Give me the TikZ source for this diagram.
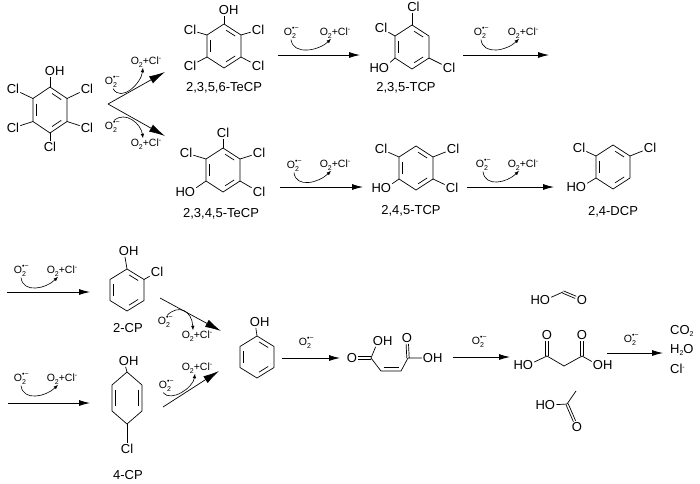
\documentclass[tikz,border=0pt]{standalone}
\usepackage{fontspec}
\setmainfont{Liberation Sans}
\usetikzlibrary{arrows.meta,calc}
\newcommand{\atomfont}{\fontsize{13}{15}\selectfont}
\newcommand{\reagfont}{\fontsize{10.5}{12}\selectfont}
\newcommand{\idxfont}{\fontsize{7}{8}\selectfont}
\newcommand{\superox}{O\rlap{\raisebox{5.5pt}{\idxfont •−}}\raisebox{-3pt}{\idxfont 2}}
\newcommand{\oxcl}{O\raisebox{-2.5pt}{\idxfont 2}+Cl\raisebox{4pt}{\idxfont -}}
% ring: [inner bonds]{name}{centre}{half width}{half height}
\newcommand{\benzring}[5][ul/ll,b/lr,ur/t]{%
  \coordinate (#2) at (#3);
  \foreach \v/\dx/\dy in {t/0/-1,ur/1/-0.5,lr/1/0.5,b/0/1,ll/-1/0.5,ul/-1/-0.5}
    {\coordinate (#2-\v) at ($(#2)+(\dx*#4,\dy*#5)$);}
  \draw[bond] (#2-t) -- (#2-ur) -- (#2-lr) -- (#2-b) -- (#2-ll) -- (#2-ul) -- cycle;
  \foreach \p/\q in {#1}
    {\draw[bond,shorten <=2.5pt,shorten >=2.5pt] ($(#2)!0.78!(#2-\p)$) -- ($(#2)!0.78!(#2-\q)$);}
}
\begin{document}
\begin{tikzpicture}[x=1pt,y=-1pt,line join=bevel,
  bond/.style={line width=0.7pt},
  atom/.style={inner sep=1pt,font=\atomfont},
  cpd/.style={inner sep=1pt,font=\atomfont},
  reag/.style={inner sep=0.5pt,font=\reagfont},
  rxn/.style={line width=0.8pt,-{Latex[length=11pt,width=6pt]}},
  bigrxn/.style={line width=0.7pt,-{Latex[length=16pt,width=8pt]}},
  curly/.style={line width=0.6pt,-{Latex[length=4.5pt,width=3.5pt]}}]
\useasboundingbox (0,0) rectangle (700,483);
%%
\benzring{pcp}{50,110}{17}{23}
\node[atom] (pcp-OH) at (50,71) {O\rlap{H}};
\node[atom] (pcp-Cl2) at (13,89) {Cl};
\node[atom] (pcp-Cl6) at (87,89) {Cl};
\node[atom] (pcp-Cl3) at (13,128) {Cl};
\node[atom] (pcp-Cl5) at (87,128) {Cl};
\node[atom] (pcp-Cl4) at (50,147) {Cl};
\draw[bond] (pcp-t) -- (pcp-OH);
\draw[bond] (pcp-ul) -- (pcp-Cl2);
\draw[bond] (pcp-ur) -- (pcp-Cl6);
\draw[bond] (pcp-ll) -- (pcp-Cl3);
\draw[bond] (pcp-lr) -- (pcp-Cl5);
\draw[bond] (pcp-b) -- (pcp-Cl4);
%
\coordinate (br) at (108,104);
\coordinate (br-u) at (165,72);
\coordinate (br-l) at (165,136);
\draw[line width=0.7pt,{Latex[length=16pt,width=8pt]}-{Latex[length=16pt,width=8pt]}] (br-u) -- (br) -- (br-l);
\node[reag] (br-ox1) at (111,82) {\superox};
\node[reag] (br-pr1) at (146,62) {\oxcl};
\node[reag] (br-ox2) at (111,127) {\superox};
\node[reag] (br-pr2) at (146,144) {\oxcl};
\draw[curly] ([xshift=2pt]br-ox1.south) .. controls +(8,14) and +(-2,16) .. ([xshift=-3pt]br-pr1.south);
\draw[curly] ([xshift=3pt]br-ox2.north) .. controls +(12,-10) and +(-2,-14) .. ([xshift=-3pt]br-pr2.north);
%%
\benzring{tecpa}{224,46}{17}{22}
\node[atom] (tecpa-OH) at (224,10) {O\rlap{H}};
\node[atom] (tecpa-Cl2) at (190,30) {Cl};
\node[atom] (tecpa-Cl6) at (258,30) {Cl};
\node[atom] (tecpa-Cl3) at (190,66) {Cl};
\node[atom] (tecpa-Cl5) at (258,66) {Cl};
\node[cpd] (tecpa-name) at (224,88) {2,3,5,6-TeCP};
\draw[bond] (tecpa-t) -- (tecpa-OH);
\draw[bond] (tecpa-ul) -- (tecpa-Cl2);
\draw[bond] (tecpa-ur) -- (tecpa-Cl6);
\draw[bond] (tecpa-ll) -- (tecpa-Cl3);
\draw[bond] (tecpa-lr) -- (tecpa-Cl5);
%
\coordinate (a1-s) at (278,55);
\coordinate (a1-e) at (360,55);
\draw[rxn] (a1-s) -- (a1-e);
\node[reag] (a1-ox) at (290,33) {\superox};
\node[reag] (a1-pr) at (335,33) {\oxcl};
\draw[curly] ([xshift=1pt]a1-ox.south) .. controls +(2,16) and +(-12,12) .. ([xshift=-4pt]a1-pr.south);
%%
\benzring{tcpa}{412,47}{17}{22}
\node[atom] (tcpa-Cl3) at (412,7) {C\rlap{l}};
\node[atom] (tcpa-Cl2) at (381,28) {Cl};
\node[atom] (tcpa-OH) at (384,68) {\llap{H}O};
\node[atom] (tcpa-Cl5) at (449,68) {Cl};
\node[cpd] (tcpa-name) at (406,88) {2,3,5-TCP};
\draw[bond] (tcpa-t) -- (tcpa-Cl3);
\draw[bond] (tcpa-ul) -- (tcpa-Cl2);
\draw[bond] (tcpa-ll) -- (tcpa-OH);
\draw[bond] (tcpa-lr) -- (tcpa-Cl5);
%
\coordinate (a2-s) at (463,55);
\coordinate (a2-e) at (549,55);
\draw[rxn] (a2-s) -- (a2-e);
\node[reag] (a2-ox) at (480,33) {\superox};
\node[reag] (a2-pr) at (523,33) {\oxcl};
\draw[curly] ([xshift=1pt]a2-ox.south) .. controls +(2,16) and +(-12,12) .. ([xshift=-4pt]a2-pr.south);
%%
\benzring{tecpb}{223,170}{17}{22}
\node[atom] (tecpb-Cl3) at (223,133) {Cl};
\node[atom] (tecpb-Cl2) at (186,153) {Cl};
\node[atom] (tecpb-Cl4) at (259,153) {Cl};
\node[atom] (tecpb-OH) at (190,192) {\llap{H}O};
\node[atom] (tecpb-Cl5) at (259,192) {Cl};
\node[cpd] (tecpb-name) at (221,214) {2,3,4,5-TeCP};
\draw[bond] (tecpb-t) -- (tecpb-Cl3);
\draw[bond] (tecpb-ul) -- (tecpb-Cl2);
\draw[bond] (tecpb-ur) -- (tecpb-Cl4);
\draw[bond] (tecpb-ll) -- (tecpb-OH);
\draw[bond] (tecpb-lr) -- (tecpb-Cl5);
%
\coordinate (b1-s) at (280,187);
\coordinate (b1-e) at (363,187);
\draw[rxn] (b1-s) -- (b1-e);
\node[reag] (b1-ox) at (293,166) {\superox};
\node[reag] (b1-pr) at (335,165) {\oxcl};
\draw[curly] ([xshift=1pt]b1-ox.south) .. controls +(2,16) and +(-12,12) .. ([xshift=-4pt]b1-pr.south);
%%
\benzring{tcpb}{416,168}{17}{22}
\node[atom] (tcpb-Cl2) at (381,149) {Cl};
\node[atom] (tcpb-Cl4) at (453,149) {Cl};
\node[atom] (tcpb-OH) at (386,188) {\llap{H}O};
\node[atom] (tcpb-Cl5) at (452,188) {Cl};
\node[cpd] (tcpb-name) at (411,211) {2,4,5-TCP};
\draw[bond] (tcpb-ul) -- (tcpb-Cl2);
\draw[bond] (tcpb-ur) -- (tcpb-Cl4);
\draw[bond] (tcpb-ll) -- (tcpb-OH);
\draw[bond] (tcpb-lr) -- (tcpb-Cl5);
%
\coordinate (b2-s) at (467,187);
\coordinate (b2-e) at (554,187);
\draw[rxn] (b2-s) -- (b2-e);
\node[reag] (b2-ox) at (482,165) {\superox};
\node[reag] (b2-pr) at (523,165) {\oxcl};
\draw[curly] ([xshift=1pt]b2-ox.south) .. controls +(2,16) and +(-12,12) .. ([xshift=-4pt]b2-pr.south);
%%
\benzring{dcp}{613,167}{17}{22}
\node[atom] (dcp-Cl2) at (579,148) {Cl};
\node[atom] (dcp-Cl4) at (650,148) {Cl};
\node[atom] (dcp-OH) at (581,187) {\llap{H}O};
\node[cpd] (dcp-name) at (613,212) {2,4-DCP};
\draw[bond] (dcp-ul) -- (dcp-Cl2);
\draw[bond] (dcp-ur) -- (dcp-Cl4);
\draw[bond] (dcp-ll) -- (dcp-OH);
%%
\coordinate (c1-s) at (7,292);
\coordinate (c1-e) at (90,292);
\draw[rxn] (c1-s) -- (c1-e);
\node[reag] (c1-ox) at (20,271) {\superox};
\node[reag] (c1-pr) at (62,271) {\oxcl};
\draw[curly] ([xshift=1pt]c1-ox.south) .. controls +(2,16) and +(-12,12) .. ([xshift=-4pt]c1-pr.south);
%
\benzring{cpa}{127,290}{17}{21}
\node[atom] (cpa-OH) at (124,251) {O\rlap{H}};
\node[atom] (cpa-Cl) at (157,272) {Cl};
\node[cpd] (cpa-name) at (128,328) {2-CP};
\draw[bond] (cpa-t) -- (cpa-OH);
\draw[bond] (cpa-ur) -- (cpa-Cl);
%
\coordinate (c2-s) at (8,403);
\coordinate (c2-e) at (90,403);
\draw[rxn] (c2-s) -- (c2-e);
\node[reag] (c2-ox) at (20,379) {\superox};
\node[reag] (c2-pr) at (62,379) {\oxcl};
\draw[curly] ([xshift=1pt]c2-ox.south) .. controls +(2,16) and +(-12,12) .. ([xshift=-4pt]c2-pr.south);
%
\benzring[ul/ll,lr/ur]{cpb}{127,398}{15}{26}
\node[atom] (cpb-OH) at (124,361) {O\rlap{H}};
\node[atom] (cpb-Cl) at (127,449) {Cl};
\node[cpd] (cpb-name) at (128,475) {4-CP};
\draw[bond] (cpb-t) -- (cpb-OH);
\draw[bond] (cpb-b) -- (cpb-Cl);
%%
\coordinate (e1-s) at (160,298);
\coordinate (e1-e) at (221,331);
\draw[bigrxn] (e1-s) -- (e1-e);
\node[reag] (e1-ox) at (164,322) {\superox};
\node[reag] (e1-pr) at (197,336) {\oxcl};
\draw[curly] ([xshift=3pt]e1-ox.north) .. controls +(12,-12) and +(-1,-19) .. ([xshift=-4pt]e1-pr.north);
\coordinate (e2-s) at (163,407);
\coordinate (e2-e) at (219,371);
\draw[bigrxn] (e2-s) -- (e2-e);
\node[reag] (e2-ox) at (165,386) {\superox};
\node[reag] (e2-pr) at (197,368) {\oxcl};
\draw[curly] ([xshift=-2pt]e2-ox.south) .. controls +(8,10) and +(-2,14) .. ([xshift=-2pt]e2-pr.south);
%%
\benzring{phol}{257,357}{17}{21}
\node[atom] (phol-OH) at (255,322) {O\rlap{H}};
\draw[bond] (phol-t) -- (phol-OH);
%
\coordinate (d1-s) at (282,358);
\coordinate (d1-e) at (340,358);
\draw[rxn] (d1-s) -- (d1-e);
\node[reag] (d1-ox) at (305,343) {\superox};
%% maleic acid
\coordinate (mal-c1) at (371,358);
\coordinate (mal-c2) at (381,371);
\coordinate (mal-c3) at (401,371);
\coordinate (mal-c4) at (408,358);
\node[atom] (mal-O1) at (352,358) {O};
\node[atom] (mal-OH1) at (378,341) {O\rlap{H}};
\node[atom] (mal-O4) at (407,338) {O};
\node[atom] (mal-OH4) at (428,358) {O\rlap{H}};
\draw[bond,transform canvas={yshift=1.2pt}] (mal-c1) -- (mal-O1);
\draw[bond,transform canvas={yshift=-1.2pt}] (mal-c1) -- (mal-O1);
\draw[bond,transform canvas={xshift=1.2pt}] (mal-c4) -- (mal-O4);
\draw[bond,transform canvas={xshift=-1.2pt}] (mal-c4) -- (mal-O4);
\draw[bond] (mal-OH1) -- (mal-c1) -- (mal-c2) -- (mal-c3) -- (mal-c4) -- (mal-OH4);
\draw[bond,shorten <=2.5pt,shorten >=2.5pt] ($(mal-c2)+(0,-3.5)$) -- ($(mal-c3)+(0,-3.5)$);
%
\coordinate (d2-s) at (453,357);
\coordinate (d2-e) at (510,357);
\draw[rxn] (d2-s) -- (d2-e);
\node[reag] (d2-ox) at (478,342) {\superox};
%% malonic, formic, acetic acid
\coordinate (malo-c1) at (547,356);
\coordinate (malo-c2) at (564,366);
\coordinate (malo-c3) at (582,356);
\node[atom] (malo-OH1) at (528,365) {\llap{H}O};
\node[atom] (malo-O1) at (547,335) {O};
\node[atom] (malo-O3) at (582,335) {O};
\node[atom] (malo-OH3) at (598,365) {O\rlap{H}};
\draw[bond,transform canvas={xshift=1.2pt}] (malo-c1) -- (malo-O1);
\draw[bond,transform canvas={xshift=-1.2pt}] (malo-c1) -- (malo-O1);
\draw[bond,transform canvas={xshift=1.2pt}] (malo-c3) -- (malo-O3);
\draw[bond,transform canvas={xshift=-1.2pt}] (malo-c3) -- (malo-O3);
\draw[bond] (malo-OH1) -- (malo-c1) -- (malo-c2) -- (malo-c3) -- (malo-OH3);
%
\coordinate (form-c) at (563,292);
\node[atom] (form-OH) at (545,300) {\llap{H}O};
\node[atom] (form-O) at (582,300) {O};
\draw[bond,transform canvas={xshift=0.5pt,yshift=1.1pt}] (form-c) -- (form-O);
\draw[bond,transform canvas={xshift=-0.5pt,yshift=-1.1pt}] (form-c) -- (form-O);
\draw[bond] (form-OH) -- (form-c);
%
\coordinate (ace-c) at (567,404);
\coordinate (ace-me) at (576,391);
\node[atom] (ace-OH) at (550,405) {\llap{H}O};
\node[atom] (ace-O) at (577,427) {O};
\draw[bond,transform canvas={xshift=1.1pt,yshift=0.5pt}] (ace-c) -- (ace-O);
\draw[bond,transform canvas={xshift=-1.1pt,yshift=-0.5pt}] (ace-c) -- (ace-O);
\draw[bond] (ace-OH) -- (ace-c) -- (ace-me);
%
\coordinate (d3-s) at (607,353);
\coordinate (d3-e) at (663,353);
\draw[rxn] (d3-s) -- (d3-e);
\node[reag] (d3-ox) at (630,340) {\superox};
\node[atom,anchor=west] (prod-co2) at (669,331) {CO\raisebox{-2.5pt}{\idxfont 2}};
\node[atom,anchor=west] (prod-h2o) at (669,350) {H\raisebox{-2.5pt}{\idxfont 2}O};
\node[atom,anchor=west] (prod-cl) at (669,369) {Cl\raisebox{4.5pt}{\idxfont -}};
%
\end{tikzpicture}
\end{document}
